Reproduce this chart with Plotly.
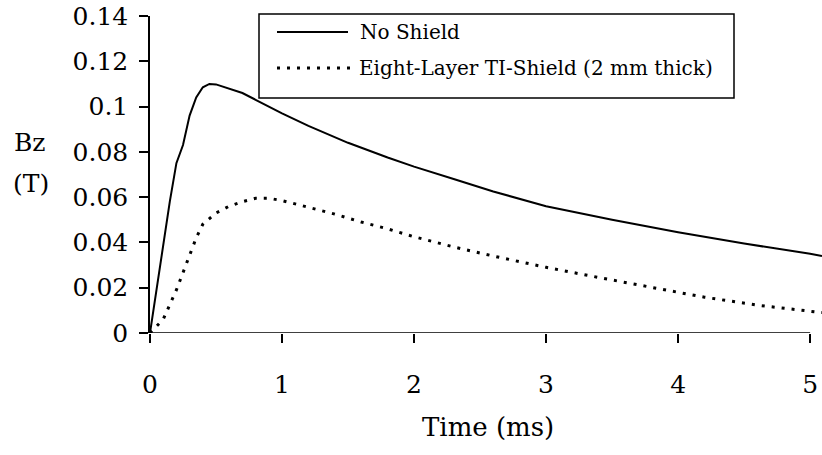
import plotly.graph_objects as go

# ---- data ----
t_no_shield = [0, 0.05, 0.1, 0.15, 0.2, 0.25, 0.3, 0.35, 0.4, 0.45, 0.5, 0.6, 0.7, 0.8,
               1.0, 1.2, 1.5, 1.8, 2.0, 2.3, 2.6, 3.0, 3.5, 4.0, 4.5, 5.0, 5.09]
b_no_shield = [0, 0.02, 0.04, 0.058, 0.075, 0.083, 0.096, 0.104, 0.1085, 0.110, 0.1098,
               0.108, 0.106, 0.103, 0.097, 0.0915, 0.084, 0.0775, 0.0735, 0.068, 0.0625,
               0.056, 0.050, 0.0445, 0.0395, 0.035, 0.034]

t_shield = [0, 0.1, 0.2, 0.3, 0.35, 0.4, 0.5, 0.6, 0.7, 0.8, 0.9, 1.0, 1.2, 1.4, 1.6, 1.8,
            2.0, 2.3, 2.6, 3.0, 3.4, 3.8, 4.2, 4.6, 5.09]
b_shield = [0, 0.006, 0.019, 0.034, 0.042, 0.048, 0.053, 0.056, 0.058, 0.0595, 0.0595,
            0.0585, 0.0555, 0.0525, 0.049, 0.046, 0.0425, 0.038, 0.034, 0.029, 0.0245,
            0.020, 0.0158, 0.0123, 0.009]

x_ticks = [0, 1, 2, 3, 4, 5]
y_ticks = [0, 0.02, 0.04, 0.06, 0.08, 0.1, 0.12, 0.14]
y_tick_labels = ["0", "0.02", "0.04", "0.06", "0.08", "0.1", "0.12", "0.14"]

series_names = ["No Shield", "Eight-Layer TI-Shield (2 mm thick)"]
x_title = "Time (ms)"
y_title = ["Bz", "(T)"]

FONT = "DejaVu Serif"
W, H = 822, 455
ML, MR, MT, MB = 150, 0, 16, 122
PW, PH = W - ML - MR, H - MT - MB


def px(x):
    return (x - ML) / PW


def py(y):
    return (H - MB - y) / PH


fig = go.Figure()
fig.add_trace(go.Scatter(x=t_no_shield, y=b_no_shield, mode="lines", name=series_names[0],
                         line=dict(color="black", width=2), showlegend=False))
fig.add_trace(go.Scatter(x=t_shield, y=b_shield, mode="lines", name=series_names[1],
                         line=dict(color="black", width=3, dash="3px,7px"), showlegend=False))

shapes = []
# x axis line from first to last tick
shapes.append(dict(type="line", xref="x", yref="y", x0=x_ticks[0], x1=x_ticks[-1], y0=0, y1=0,
                   line=dict(color="black", width=1.5)))
# legend box
shapes.append(dict(type="rect", xref="paper", yref="paper", x0=px(259), x1=px(734),
                   y0=py(98), y1=py(14), line=dict(color="black", width=1.5),
                   fillcolor="white"))
shapes.append(dict(type="line", xref="paper", yref="paper", x0=px(277), x1=px(348),
                   y0=py(32), y1=py(32), line=dict(color="black", width=2)))
shapes.append(dict(type="line", xref="paper", yref="paper", x0=px(277), x1=px(355),
                   y0=py(68), y1=py(68), line=dict(color="black", width=3, dash="3px,7px")))

annotations = [
    dict(text=series_names[0], xref="paper", yref="paper", x=px(358), y=py(32),
         xanchor="left", yanchor="middle", showarrow=False,
         font=dict(family=FONT, size=20, color="black")),
    dict(text=series_names[1], xref="paper", yref="paper", x=px(357), y=py(68),
         xanchor="left", yanchor="middle", showarrow=False,
         font=dict(family=FONT, size=20, color="black")),
    dict(text=x_title, xref="paper", yref="paper", x=px(488), y=py(427),
         xanchor="center", yanchor="middle", showarrow=False,
         font=dict(family=FONT, size=26, color="black")),
    dict(text=y_title[0], xref="paper", yref="paper", x=px(12), y=py(142),
         xanchor="left", yanchor="middle", showarrow=False,
         font=dict(family=FONT, size=25, color="black")),
    dict(text=y_title[1], xref="paper", yref="paper", x=px(11), y=py(183),
         xanchor="left", yanchor="middle", showarrow=False,
         font=dict(family=FONT, size=25, color="black")),
]

fig.update_layout(
    width=W, height=H,
    margin=dict(l=ML, r=MR, t=MT, b=MB, pad=0),
    paper_bgcolor="white", plot_bgcolor="white",
    font=dict(family=FONT, size=25, color="black"),
    shapes=shapes, annotations=annotations,
    showlegend=False,
)
fig.update_xaxes(range=[0, 5.09], tickvals=x_ticks, ticktext=[str(v) for v in x_ticks],
                 ticks="outside", ticklen=9, tickwidth=1.5, tickcolor="black",
                 showline=False, showgrid=False, zeroline=False,
                 ticklabeloverflow="allow",
                 ticklabelstandoff=20, tickfont=dict(family=FONT, size=25))
fig.update_yaxes(range=[0, 0.14], tickvals=y_ticks, ticktext=y_tick_labels,
                 ticks="outside", ticklen=9, tickwidth=1.5, tickcolor="black",
                 showline=True, linecolor="black", linewidth=1.5,
                 showgrid=False, zeroline=False,
                 ticklabelstandoff=6, tickfont=dict(family=FONT, size=25))

fig.write_html("out.html", config={"displayModeBar": False},
               post_script="document.body.style.margin='0';document.body.style.overflow='hidden';")
